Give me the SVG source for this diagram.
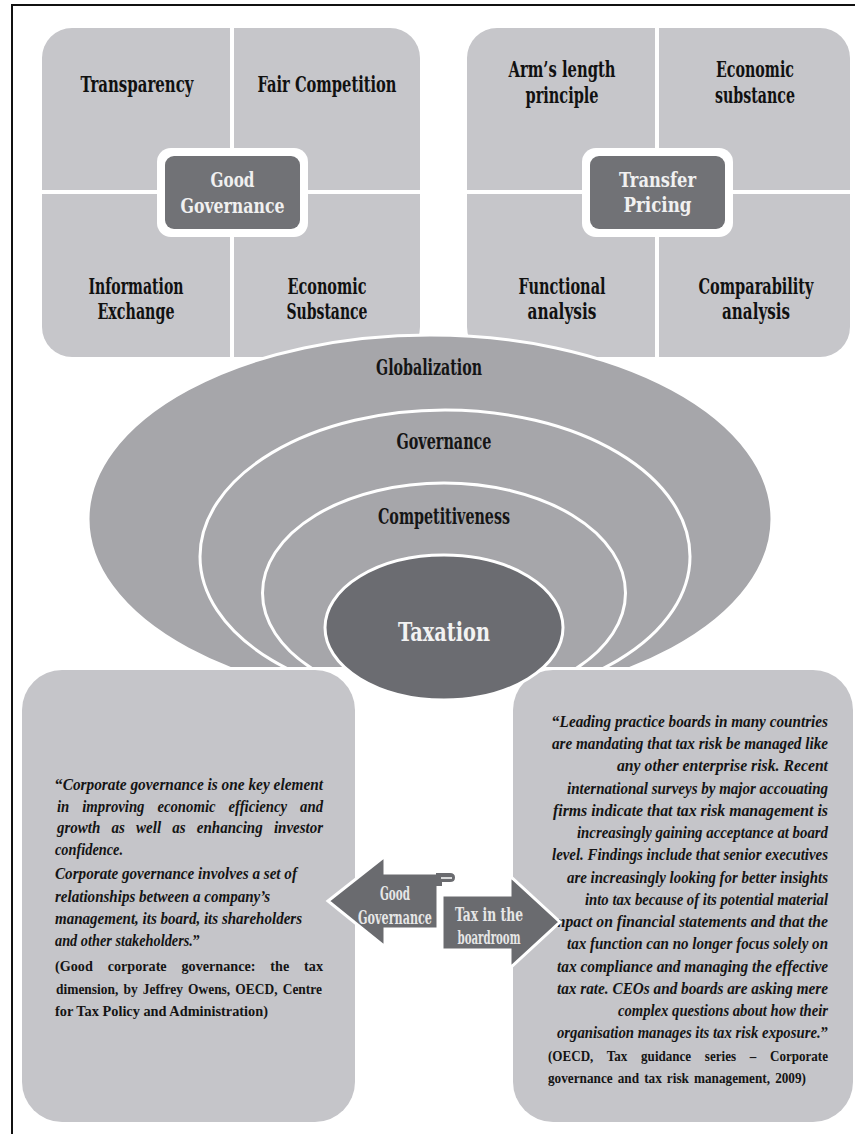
<svg xmlns="http://www.w3.org/2000/svg" width="855" height="1134" viewBox="0 0 855 1134">
  <defs>
    <style>
      .grid { fill: #c6c6ca; }
      .div { stroke: #ffffff; stroke-width: 4; }
      .hubOuter { fill: #ffffff; }
      .hub { fill: #717276; }
      .band { fill: #a6a6aa; stroke: #ffffff; stroke-width: 3; }
      .core { fill: #6b6c71; stroke: #ffffff; stroke-width: 3; }
      .panel { fill: #c5c5c9; }
      .arrow { fill: #6a6b6f; stroke: #ffffff; stroke-width: 3; stroke-linejoin: miter; }
      .slab { font-family: 'DejaVu Serif Condensed', 'DejaVu Serif', serif; font-stretch: condensed; }
      .q { font-weight: bold; font-size: 23px; fill: #111111; text-anchor: middle; }
      .hubt { font-weight: bold; font-size: 20px; fill: #f0f0f0; text-anchor: middle; }
      .ring { font-weight: bold; font-size: 22px; fill: #151515; text-anchor: middle; }
      .tax { font-weight: bold; font-size: 26px; fill: #f2f2f2; text-anchor: middle; }
      .it { font-family: 'Liberation Serif', serif; font-style: italic; font-weight: bold; font-size: 16px; fill: #141414; }
      .up { font-style: normal; }
      .cite { font-family: 'Liberation Serif', serif; font-weight: bold; font-size: 15px; fill: #141414; }
      .ar { font-weight: bold; font-size: 18px; fill: #e6e6e6; text-anchor: middle; }
      .end { text-anchor: end; }
    </style>
    <clipPath id="bandClip">
      <rect x="0" y="0" width="855" height="667"/>
    </clipPath>
  </defs>

  <rect x="0" y="0" width="855" height="1134" fill="#ffffff"/>

  <!-- page frame: top and left rules only -->
  <path id="frame" d="M12 1134 V5 H855" fill="none" stroke="#111111" stroke-width="2"/>

  <!-- Good Governance quadrant block -->
  <g id="node-good-governance">
    <rect class="grid" x="42" y="28" width="378" height="329" rx="30"/>
    <line class="div" x1="232" y1="26" x2="232" y2="359"/>
    <line class="div" x1="40" y1="192" x2="422" y2="192"/>
    <rect class="hubOuter" x="157" y="148" width="151" height="89" rx="14"/>
    <rect class="hub" x="165" y="156" width="135" height="73" rx="9"/>
    <text class="slab hubt" x="232.5" y="187" textLength="44" lengthAdjust="spacingAndGlyphs">Good</text>
    <text class="slab hubt" x="232.5" y="213" textLength="104" lengthAdjust="spacingAndGlyphs">Governance</text>
    <text class="slab q" x="137" y="92" textLength="113" lengthAdjust="spacingAndGlyphs">Transparency</text>
    <text class="slab q" x="327" y="92" textLength="139" lengthAdjust="spacingAndGlyphs">Fair Competition</text>
    <text class="slab q" x="136" y="294" textLength="95" lengthAdjust="spacingAndGlyphs">Information</text>
    <text class="slab q" x="136" y="319" textLength="77" lengthAdjust="spacingAndGlyphs">Exchange</text>
    <text class="slab q" x="327" y="294" textLength="79" lengthAdjust="spacingAndGlyphs">Economic</text>
    <text class="slab q" x="327" y="319" textLength="81" lengthAdjust="spacingAndGlyphs">Substance</text>
  </g>

  <!-- Transfer Pricing quadrant block -->
  <g id="node-transfer-pricing">
    <rect class="grid" x="467" y="28" width="383" height="329" rx="30"/>
    <line class="div" x1="657" y1="26" x2="657" y2="359"/>
    <line class="div" x1="465" y1="192" x2="852" y2="192"/>
    <rect class="hubOuter" x="582" y="148" width="151" height="89" rx="14"/>
    <rect class="hub" x="590" y="156" width="135" height="73" rx="9"/>
    <text class="slab hubt" x="657.5" y="187" textLength="77" lengthAdjust="spacingAndGlyphs">Transfer</text>
    <text class="slab hubt" x="657.5" y="212" textLength="68" lengthAdjust="spacingAndGlyphs">Pricing</text>
    <text class="slab q" x="562" y="77" textLength="107" lengthAdjust="spacingAndGlyphs">Arm’s length</text>
    <text class="slab q" x="562" y="103" textLength="73" lengthAdjust="spacingAndGlyphs">principle</text>
    <text class="slab q" x="755" y="77" textLength="78" lengthAdjust="spacingAndGlyphs">Economic</text>
    <text class="slab q" x="755" y="103" textLength="80" lengthAdjust="spacingAndGlyphs">substance</text>
    <text class="slab q" x="562" y="294" textLength="87" lengthAdjust="spacingAndGlyphs">Functional</text>
    <text class="slab q" x="562" y="319" textLength="69" lengthAdjust="spacingAndGlyphs">analysis</text>
    <text class="slab q" x="756" y="294" textLength="115" lengthAdjust="spacingAndGlyphs">Comparability</text>
    <text class="slab q" x="756" y="319" textLength="68" lengthAdjust="spacingAndGlyphs">analysis</text>
  </g>

  <!-- nested rings, cut off above the lower panels -->
  <g clip-path="url(#bandClip)">
    <g id="node-globalization">
      <ellipse class="band" cx="430" cy="519" rx="342" ry="184"/>
      <text class="slab ring" x="429" y="375" textLength="106" lengthAdjust="spacingAndGlyphs">Globalization</text>
    </g>
    <g id="node-governance">
      <ellipse class="band" cx="445" cy="556.5" rx="245" ry="146.5"/>
      <text class="slab ring" x="444" y="449" textLength="95" lengthAdjust="spacingAndGlyphs">Governance</text>
    </g>
    <g id="node-competitiveness">
      <ellipse class="band" cx="444" cy="593" rx="181.5" ry="110"/>
      <text class="slab ring" x="444" y="524" textLength="132" lengthAdjust="spacingAndGlyphs">Competitiveness</text>
    </g>
  </g>

  <!-- left quotation panel -->
  <g id="node-quote-governance">
    <rect class="panel" x="22" y="670" width="333" height="452" rx="40"/>
    <text class="it" x="55" y="790" textLength="268" lengthAdjust="spacingAndGlyphs"><tspan class="up">“</tspan>Corporate governance is one key element</text>
    <text class="it" x="57" y="812" word-spacing="10" textLength="266" lengthAdjust="spacingAndGlyphs">in improving economic efficiency and</text>
    <text class="it" x="57" y="833" word-spacing="8" textLength="266" lengthAdjust="spacingAndGlyphs">growth as well as enhancing investor</text>
    <text class="it" x="55" y="855" textLength="68" lengthAdjust="spacingAndGlyphs">confidence.</text>
    <text class="it" x="55" y="879" textLength="242" lengthAdjust="spacingAndGlyphs">Corporate governance involves a set of</text>
    <text class="it" x="55" y="902" textLength="215" lengthAdjust="spacingAndGlyphs">relationships between a company’s</text>
    <text class="it" x="55" y="924" textLength="247" lengthAdjust="spacingAndGlyphs">management, its board, its shareholders</text>
    <text class="it" x="55" y="946" textLength="145" lengthAdjust="spacingAndGlyphs">and other stakeholders.<tspan class="up">”</tspan></text>
    <text class="cite" x="55" y="971" word-spacing="12" textLength="268" lengthAdjust="spacingAndGlyphs">(Good corporate governance: the tax</text>
    <text class="cite" x="56" y="994" word-spacing="2" textLength="266" lengthAdjust="spacingAndGlyphs">dimension, by Jeffrey Owens, OECD, Centre</text>
    <text class="cite" x="55" y="1016" textLength="213" lengthAdjust="spacingAndGlyphs">for Tax Policy and Administration)</text>
  </g>

  <!-- right quotation panel -->
  <g id="node-quote-boardroom">
    <rect class="panel" x="513" y="670" width="340" height="452" rx="40"/>
    <text class="it end" x="828" y="727" textLength="276" lengthAdjust="spacingAndGlyphs"><tspan class="up">“</tspan>Leading practice boards in many countries</text>
    <text class="it end" x="828" y="749" textLength="276" lengthAdjust="spacingAndGlyphs">are mandating that tax risk be managed like</text>
    <text class="it end" x="828" y="771" textLength="211" lengthAdjust="spacingAndGlyphs">any other enterprise risk. Recent</text>
    <text class="it end" x="828" y="794" textLength="261" lengthAdjust="spacingAndGlyphs">international surveys by major accouating</text>
    <text class="it end" x="828" y="816" textLength="275" lengthAdjust="spacingAndGlyphs">firms indicate that tax risk management is</text>
    <text class="it end" x="828" y="838" textLength="251" lengthAdjust="spacingAndGlyphs">increasingly gaining acceptance at board</text>
    <text class="it end" x="828" y="860" textLength="276" lengthAdjust="spacingAndGlyphs">level. Findings include that senior executives</text>
    <text class="it end" x="828" y="883" textLength="261" lengthAdjust="spacingAndGlyphs">are increasingly looking for better insights</text>
    <text class="it end" x="828" y="905" textLength="243" lengthAdjust="spacingAndGlyphs">into tax because of its potential material</text>
    <text class="it end" x="828" y="927" textLength="279" lengthAdjust="spacingAndGlyphs">impact on financial statements and that the</text>
    <text class="it end" x="828" y="949" textLength="261" lengthAdjust="spacingAndGlyphs">tax function can no longer focus solely on</text>
    <text class="it end" x="828" y="972" textLength="271" lengthAdjust="spacingAndGlyphs">tax compliance and managing the effective</text>
    <text class="it end" x="828" y="994" textLength="271" lengthAdjust="spacingAndGlyphs">tax rate. CEOs and boards are asking mere</text>
    <text class="it end" x="828" y="1016" textLength="210" lengthAdjust="spacingAndGlyphs">complex questions about how their</text>
    <text class="it end" x="828" y="1038" textLength="271" lengthAdjust="spacingAndGlyphs">organisation manages its tax risk exposure.<tspan class="up">”</tspan></text>
    <text class="cite" x="548" y="1061" word-spacing="12" textLength="280" lengthAdjust="spacingAndGlyphs">(OECD, Tax guidance series – Corporate</text>
    <text class="cite" x="548" y="1083" word-spacing="2" textLength="258" lengthAdjust="spacingAndGlyphs">governance and tax risk management,  2009)</text>
  </g>

  <!-- innermost ring sits over the panels -->
  <g id="node-taxation">
    <ellipse class="core" cx="444" cy="627.5" rx="119" ry="72.5"/>
    <text class="slab tax" x="444" y="641" textLength="92" lengthAdjust="spacingAndGlyphs">Taxation</text>
  </g>

  <!-- opposing arrows between the panels -->
  <g id="connectors">
    <g id="arrow-good-governance">
      <polygon class="arrow" points="328,901 385,856 385,873 438,873 438,929 385,929 385,947"/>
      <path d="M436 873 H450 Q455 873 455 877.5 Q455 882 450 882 H442 V886 H436 Z" fill="#6a6b6f"/>
      <line x1="441" y1="878" x2="452" y2="878" stroke="#ffffff" stroke-width="1.5"/>
      <text class="slab ar" x="395" y="900" textLength="30" lengthAdjust="spacingAndGlyphs">Good</text>
      <text class="slab ar" x="395" y="924" textLength="74" lengthAdjust="spacingAndGlyphs">Governance</text>
    </g>
    <g id="arrow-boardroom">
      <polygon class="arrow" points="442,895 510,895 510,876 560,922 510,968 510,950 442,950"/>
      <text class="slab ar" x="489" y="921" textLength="68" lengthAdjust="spacingAndGlyphs">Tax in the</text>
      <text class="slab ar" x="489" y="944" textLength="63" lengthAdjust="spacingAndGlyphs">boardroom</text>
    </g>
  </g>
</svg>
